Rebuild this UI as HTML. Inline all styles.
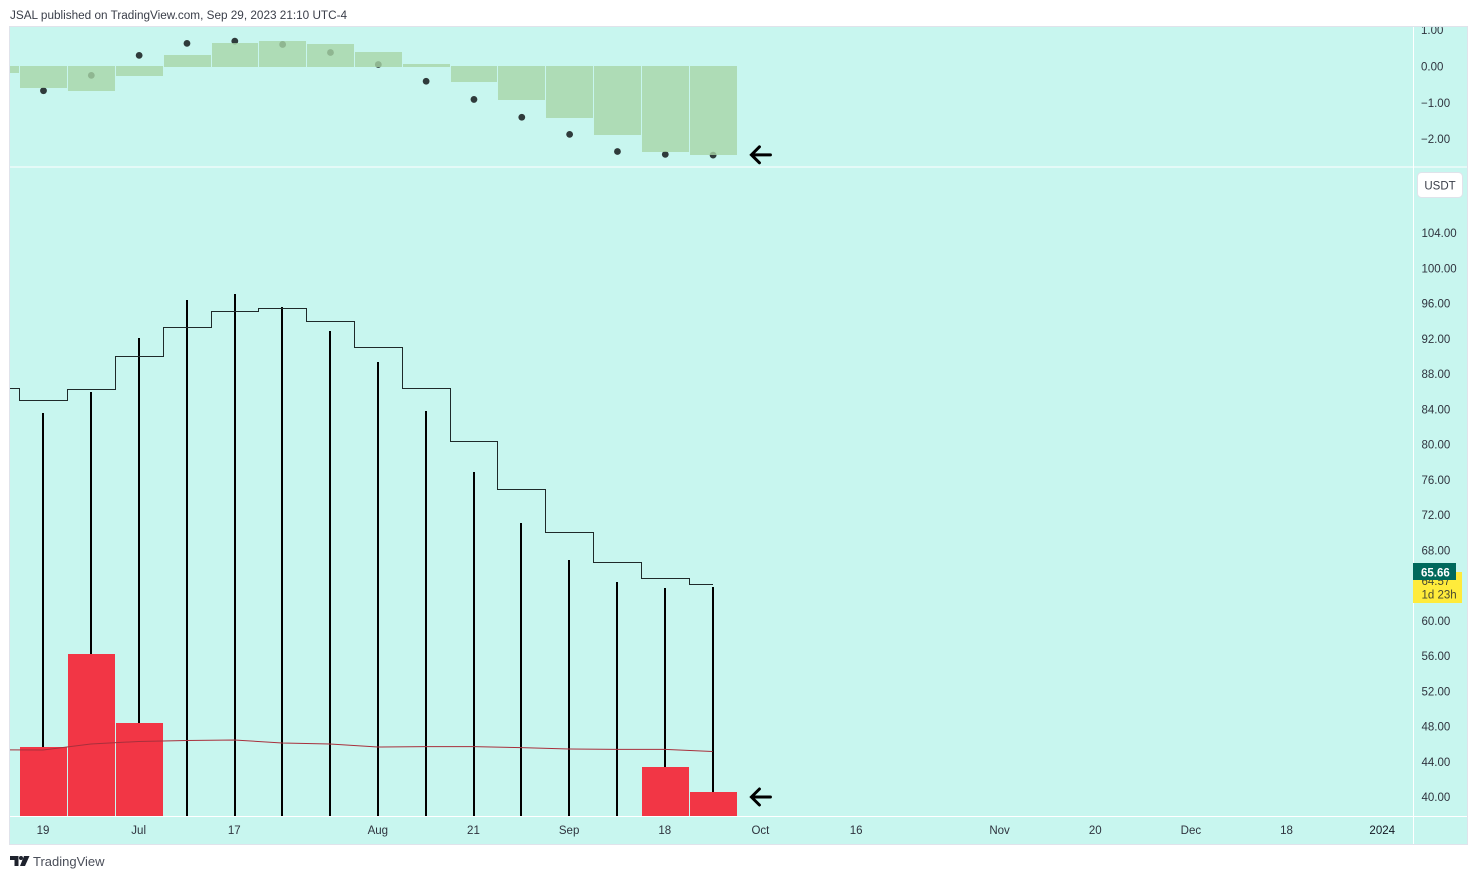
<!DOCTYPE html>
<html>
<head>
<meta charset="utf-8">
<title>JSAL chart</title>
<style>
html,body{margin:0;padding:0;background:#fff;width:1477px;height:879px;overflow:hidden}
svg{display:block;font-family:"Liberation Sans",sans-serif}
text{font-family:"Liberation Sans",sans-serif}
</style>
</head>
<body>
<svg id="chart" xmlns="http://www.w3.org/2000/svg" width="1477" height="879" viewBox="0 0 1477 879">
  <defs>
    <clipPath id="oscClip"><rect x="10" y="27" width="1403" height="140"/></clipPath>
    <clipPath id="mainClip"><rect x="10" y="168" width="1403" height="648"/></clipPath>
    <clipPath id="oscAxisClip"><rect x="1414" y="27" width="53" height="140"/></clipPath>
  </defs>
  <text x="10" y="19" font-size="11.75" fill="#3a3e49">JSAL published on TradingView.com, Sep 29, 2023 21:10 UTC-4</text>
  <rect x="9.5" y="26.5" width="1458" height="818" fill="#c8f6ef" stroke="#e0e3eb" stroke-width="1"/>
  <g id="oscPane" clip-path="url(#oscClip)"></g>
  <g id="mainPane" clip-path="url(#mainClip)"></g>
  <line x1="10" x2="1467" y1="167" y2="167" stroke="#ffffff" stroke-width="1"/>
  <line x1="10" x2="1467" y1="816.5" y2="816.5" stroke="#ffffff" stroke-width="1"/>
  <line x1="1413.5" x2="1413.5" y1="27" y2="844" stroke="#ffffff" stroke-width="1"/>
  <g id="oscAxis" clip-path="url(#oscAxisClip)"></g>
  <g id="priceAxis"></g>
  <g id="timeAxis"></g>
  <g>
    <rect x="1417.5" y="172.5" width="45" height="25" rx="4" fill="#ffffff" stroke="#e0e3eb"/>
    <text x="1440" y="189.5" font-size="11.5" text-anchor="middle" fill="#3a3e49">USDT</text>
  </g>
  <g>
    <rect x="1413" y="572" width="49" height="31" fill="#ffeb3b"/>
    <text x="1421.5" y="585" font-size="11.5" fill="#4a4a30">64.57</text>
    <text x="1421.5" y="598.5" font-size="11.5" fill="#4a4a30">1d 23h</text>
  </g>
  <g>
    <rect x="1413" y="563" width="43" height="17" fill="#00695c"/>
    <text x="1421" y="576.5" font-size="11.5" font-weight="bold" fill="#ffffff">65.66</text>
  </g>
  <g>
    <path d="M10 856h8.5v10h-4v-6H10z M24 856h5.5L25 866h-5z" fill="#1e222d"/>
    <circle cx="21" cy="858" r="2" fill="#1e222d"/>
    <text x="33" y="866" font-size="13" fill="#4a4e59">TradingView</text>
  </g>
</svg>
<script>
// Weekly categories; the first one is only partly visible at the left edge
const categories = ["Jun 12","Jun 19","Jun 26","Jul 3","Jul 10","Jul 17","Jul 24","Jul 31","Aug 7","Aug 14","Aug 21","Aug 28","Sep 4","Sep 11","Sep 18","Sep 25"];
// Oscillator pane
const oscHistogram = [-0.20,-0.60,-0.68,-0.27,0.30,0.63,0.68,0.60,0.38,0.06,-0.44,-0.93,-1.43,-1.90,-2.36,-2.44];
const oscDots = [null,-0.67,-0.25,0.30,0.63,0.69,0.60,0.38,0.05,-0.41,-0.91,-1.40,-1.87,-2.34,-2.42,-2.44];
const oscTicks = [1,0,-1,-2];
const oscTickLabels = ["1.00","0.00","\u22121.00","\u22122.00"];
// Price pane
const wickHigh = [null,83.57,85.96,92.09,96.40,97.08,95.60,92.88,89.36,83.80,76.88,71.09,66.89,64.40,63.72,63.83];
const wickLow = [null,37.8,37.8,37.8,37.8,37.8,37.8,37.8,37.8,37.8,37.8,37.8,37.8,37.8,37.8,37.8];
const redBars = [null,45.67,56.23,48.40,null,null,null,null,null,null,null,null,null,null,43.40,40.57];
const stepLevels = [86.41,85.05,86.30,90.04,93.33,95.15,95.49,94.01,91.06,86.41,80.40,74.95,70.07,66.67,64.85,64.17];
const movingAverage = [45.36,45.33,46.01,46.30,46.41,46.47,46.13,46.01,45.67,45.72,45.72,45.60,45.45,45.41,45.41,45.17];
const priceTicks = [40,44,48,52,56,60,68,72,76,80,84,88,92,96,100,104];
const priceTickLabels = ["40.00","44.00","48.00","52.00","56.00","60.00","68.00","72.00","76.00","80.00","84.00","88.00","92.00","96.00","100.00","104.00"];
// Time axis: slot numbers continue past the last bar
const timeTickSlots = [1,3,5,8,10,12,14,16,18,21,23,25,27,29];
const timeTickLabels = ["19","Jul","17","Aug","21","Sep","18","Oct","16","Nov","20","Dec","18","2024"];
// Arrow markers: slot and value
const arrowSlot = 16;
const oscArrowValue = -2.44;
const priceArrowValue = 40;
const priceFloor = 37.84;

function xAt(k){ return -4.84 + 47.83 * k; }
function barLeft(k){ return Math.round(xAt(k) - 22.8); }
function yOsc(v){ return 66 - v * 36.4; }
function yPrice(v){ return 797 - (v - 40) * 8.8125; }

const NS = "http://www.w3.org/2000/svg";
function make(parent, tag, attrs){
  const el = document.createElementNS(NS, tag);
  for (const key in attrs) el.setAttribute(key, attrs[key]);
  parent.appendChild(el);
  return el;
}
function barWidth(k, count){
  return k === count - 1 ? 47 : barLeft(k + 1) - barLeft(k) - 1;
}
const oscPane = document.getElementById("oscPane");
const mainPane = document.getElementById("mainPane");
const oscAxis = document.getElementById("oscAxis");
const priceAxis = document.getElementById("priceAxis");
const timeAxis = document.getElementById("timeAxis");

oscDots.forEach(function(v, k){
  if (v === null) return;
  const el = make(oscPane, "circle", {cx: xAt(k) + 0.5, cy: yOsc(v) + 0.3, r: 3.4, fill: "#2f3b3b"});
  
  
});
oscHistogram.forEach(function(v, k){
  const top = v >= 0 ? Math.round(yOsc(v)) : 66;
  const bottom = v >= 0 ? 67 : Math.round(yOsc(v));
  const el = make(oscPane, "rect", {x: barLeft(k), y: top, width: barWidth(k, oscHistogram.length), height: bottom - top, fill: "#a7d6a8", "fill-opacity": 0.8});
  
  
});
function arrowPath(cx, cy){
  return "M" + (cx + 9.5) + " " + cy + "H" + (cx - 8) + "M" + (cx - 1.5) + " " + (cy - 8) + "L" + (cx - 9.5) + " " + cy + "L" + (cx - 1.5) + " " + (cy + 8);
}
const oscArrow = make(oscPane, "path", {d: arrowPath(xAt(arrowSlot) + 0.5, yOsc(oscArrowValue)), fill: "none", stroke: "#000", "stroke-width": 3, "stroke-linecap": "round"});



wickHigh.forEach(function(v, k){
  if (v === null) return;
  const x = Math.round(xAt(k) + 0.2);
  const el = make(mainPane, "line", {x1: x, x2: x, y1: yPrice(v), y2: yPrice(wickLow[k]), stroke: "#000", "stroke-width": 2});
  
  
});
redBars.forEach(function(v, k){
  if (v === null) return;
  const top = Math.round(yPrice(v));
  const el = make(mainPane, "rect", {x: barLeft(k), y: top, width: barWidth(k, redBars.length), height: Math.round(yPrice(priceFloor)) - top, fill: "#f23645"});
  
  
});
let stepD = "";
stepLevels.forEach(function(v, k){
  const y = Math.round(yPrice(v)) + 0.5;
  const left = barLeft(k) - 0.5;
  const right = k === stepLevels.length - 1 ? Math.round(xAt(k) + 0.2) : barLeft(k + 1) - 0.5;
  stepD += (k === 0 ? "M" : "L") + left + " " + y + "L" + right + " " + y;
});
const stepLine = make(mainPane, "path", {d: stepD, fill: "none", stroke: "#1f2a2a", "stroke-width": 1});


const maLine = make(mainPane, "polyline", {points: movingAverage.map(function(v, k){ return xAt(k) + "," + yPrice(v); }).join(" "), fill: "none", stroke: "#a8303c", "stroke-width": 1});


const priceArrow = make(mainPane, "path", {d: arrowPath(xAt(arrowSlot) + 0.5, yPrice(priceArrowValue)), fill: "none", stroke: "#000", "stroke-width": 3, "stroke-linecap": "round"});



oscTicks.forEach(function(v, i){
  const el = make(oscAxis, "text", {x: 1421, y: yOsc(v) + 4.4, "font-size": 11.5, fill: "#2f333e"});
  el.textContent = oscTickLabels[i];
  
  
});
priceTicks.forEach(function(v, i){
  const el = make(priceAxis, "text", {x: 1421.5, y: yPrice(v) + 4, "font-size": 11.5, fill: "#2f333e"});
  el.textContent = priceTickLabels[i];
  
  
});
timeTickSlots.forEach(function(k, i){
  const isYear = timeTickLabels[i] === "2024";
  const el = make(timeAxis, "text", {x: xAt(k), y: 834, "font-size": 11.5, "text-anchor": "middle", fill: isYear ? "#131722" : "#2f333e"});
  el.textContent = timeTickLabels[i];
  
  
});
</script>
</body>
</html>
